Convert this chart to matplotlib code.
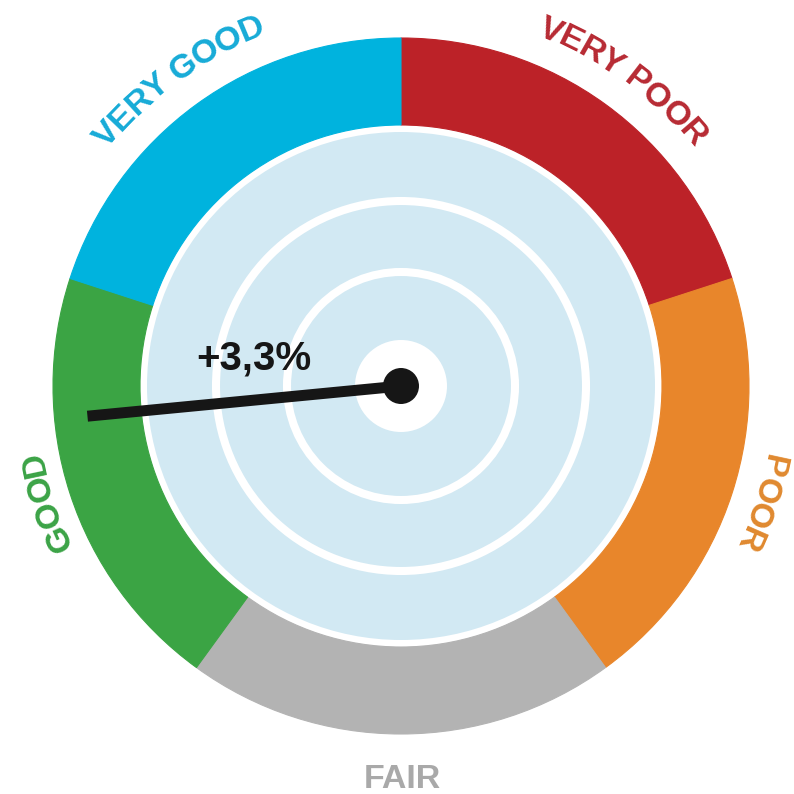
import numpy as np
import matplotlib
matplotlib.use('Agg')
import matplotlib.pyplot as plt
from matplotlib.patches import Circle
from matplotlib.font_manager import FontProperties

# gauge data
categories   = ['VERY POOR', 'POOR', 'FAIR', 'GOOD', 'VERY GOOD']
shares       = [1, 1, 1, 1, 1]
seg_colors   = ['#bc2228', '#e8862b', '#b3b3b3', '#3ba444', '#00b3de']
label_colors = ['#b72a33', '#e0892f', '#a9a9a9', '#3ba346', '#17abd7']
needle_label = '+3,3%'
needle_angle = 185.5     # degrees, counter-clockwise from 3 o'clock

# geometry in pixel units (figure is 794 px wide, centre of the gauge at origin)
R_out, R_in   = 348, 261
disk_r        = 254
rings         = [185, 114]
hub_r, dot_r  = 46, 18
needle_len    = 315

fig = plt.figure(figsize=(7.94, 7.94), dpi=100)
ax  = fig.add_axes([0, 0, 1, 1])

wedges, _ = ax.pie(shares, colors=seg_colors, startangle=90, counterclock=False,
                   radius=R_out, wedgeprops=dict(width=R_out - R_in, linewidth=0.8))
for w in wedges:
    w.set_edgecolor(w.get_facecolor())

ax.add_patch(Circle((0, 0), disk_r, facecolor='#d2e9f3', edgecolor='none', zorder=2))
for r in rings:
    ax.add_patch(Circle((0, 0), r, fill=False, edgecolor='white', linewidth=5.8, zorder=3))
ax.add_patch(Circle((0, 0), hub_r, facecolor='white', edgecolor='none', zorder=3))

# needle
a = np.deg2rad(needle_angle)
ax.plot([0, needle_len * np.cos(a)], [0, needle_len * np.sin(a)], color='#161616',
        linewidth=7.9, solid_capstyle='butt', zorder=4)
ax.add_patch(Circle((0, 0), dot_r, facecolor='#161616', edgecolor='none', zorder=5))
ax.text(-147, 28, needle_label, fontsize=29, fontweight='bold', family='Liberation Sans',
        color='#161616', ha='center', va='center', zorder=6)

ax.set_xlim(-401, 393)
ax.set_ylim(-408, 386)
ax.set_aspect('equal')
ax.axis('off')

# curved labels along the ring (clockwise, tops outward)
fp       = FontProperties(family='Liberation Sans', weight='bold', size=24.5)
renderer = fig.canvas.get_renderer()
def tw(s):
    if s.strip() == '':
        return 0.0
    w, h, d = renderer.get_text_width_height_descent(s, fp, ismath=False)
    return w

label_radius = {'VERY POOR': 385, 'POOR': 379, 'GOOD': 374, 'VERY GOOD': 386}
for i, (cat, col) in enumerate(zip(categories, label_colors)):
    mid = 90 - 72 * i - 36
    if cat == 'FAIR':
        ax.text(1, -394, cat, fontproperties=fp, color=col, ha='center', va='center')
        continue
    r     = label_radius[cat]
    total = tw(cat)
    for j, ch in enumerate(cat):
        if ch == ' ':
            continue
        c   = tw(cat[:j + 1]) - tw(ch) / 2
        th  = mid + np.rad2deg((total / 2 - c) / r)
        tr  = np.deg2rad(th)
        ax.text(r * np.cos(tr), r * np.sin(tr), ch, fontproperties=fp, color=col,
                ha='center', va='center', rotation=th - 90, rotation_mode='anchor')

fig.savefig('out.png', dpi=100, facecolor='white')
